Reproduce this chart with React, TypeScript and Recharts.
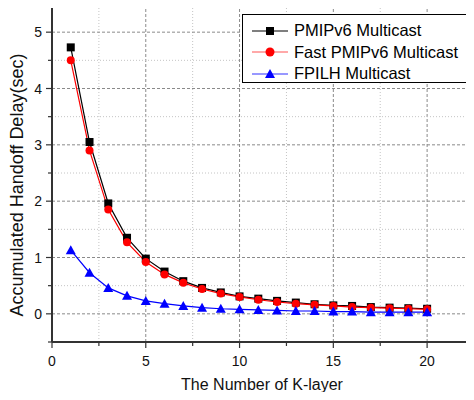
import React from 'react';
import { LineChart, Line, XAxis, YAxis, ReferenceLine, Legend } from 'recharts';

const layers = [1, 2, 3, 4, 5, 6, 7, 8, 9, 10, 11, 12, 13, 14, 15, 16, 17, 18, 19, 20];
const pmipv6 = [4.73, 3.05, 1.96, 1.35, 0.98, 0.75, 0.58, 0.46, 0.38, 0.31, 0.27, 0.23, 0.2, 0.17, 0.15, 0.14, 0.12, 0.11, 0.1, 0.09];
const fastPmipv6 = [4.5, 2.9, 1.85, 1.27, 0.92, 0.7, 0.55, 0.44, 0.36, 0.3, 0.25, 0.21, 0.18, 0.16, 0.14, 0.12, 0.11, 0.1, 0.09, 0.08];
const fpilh = [1.13, 0.73, 0.46, 0.32, 0.23, 0.18, 0.14, 0.11, 0.09, 0.08, 0.07, 0.06, 0.05, 0.05, 0.04, 0.04, 0.03, 0.03, 0.03, 0.03];

const xTicks = [0, 2.5, 5, 7.5, 10, 12.5, 15, 17.5, 20, 22.5];
const yTicks = [-0.5, 0, 0.5, 1, 1.5, 2, 2.5, 3, 3.5, 4, 4.5, 5, 5.5];
const xGrid = [2.5, 5, 7.5, 10, 12.5, 15, 17.5, 20];
const yGrid = [0, 0.5, 1, 1.5, 2, 2.5, 3, 3.5, 4, 4.5, 5];

const seriesNames = ['PMIPv6 Multicast', 'Fast PMIPv6 Multicast', 'FPILH Multicast'];

const data = layers.map((k, i) => ({ k, a: pmipv6[i], b: fastPmipv6[i], c: fpilh[i] }));

const FONT = 'Liberation Sans, Arial, sans-serif';

const isMajorX = (v: number) => v % 5 === 0;
const isMajorY = (v: number) => Number.isInteger(v);

const XTick = (props: any) => {
  const { x, y, payload } = props;
  const v = payload.value;
  const major = isMajorX(v);
  return (
    <g>
      <line x1={x} x2={x} y1={y} y2={y + (major ? 6 : 4)} stroke="#333" strokeWidth={1.2} />
      {major && v <= 20 && (
        <text x={x} y={y + 24} textAnchor="middle" fontSize={14} fontFamily={FONT} fill="#111">
          {v}
        </text>
      )}
    </g>
  );
};

const YTick = (props: any) => {
  const { x, y, payload } = props;
  const v = payload.value;
  const major = isMajorY(v);
  return (
    <g>
      <line x1={x} x2={x - (major ? 6 : 4)} y1={y} y2={y} stroke="#333" strokeWidth={1.2} />
      {major && v >= 0 && v <= 5 && (
        <text x={x - 10} y={y + 5} textAnchor="end" fontSize={14} fontFamily={FONT} fill="#111">
          {v}
        </text>
      )}
    </g>
  );
};

const Square = (props: any) => {
  const { cx, cy, index } = props;
  return <rect key={`s${index}`} x={cx - 4} y={cy - 4} width={8} height={8} fill="#000" />;
};
const Circle = (props: any) => {
  const { cx, cy, index } = props;
  return <circle key={`c${index}`} cx={cx} cy={cy} r={4} fill="#ff0000" />;
};
const Tri = (props: any) => {
  const { cx, cy, index } = props;
  return (
    <polygon key={`t${index}`} points={`${cx},${cy - 5} ${cx - 5},${cy + 4} ${cx + 5},${cy + 4}`} fill="#0000ff" />
  );
};

const markerSvg = (i: number) => {
  if (i === 0) return <rect x={14} y={5} width={8} height={8} fill="#000" />;
  if (i === 1) return <circle cx={18} cy={9} r={4.5} fill="#ff0000" />;
  return <polygon points="18,4 13,13 23,13" fill="#0000ff" />;
};
const lineColors = ['#000', '#ff5555', '#3333ff'];

const LegendBox = () => (
  <div
    style={{
      width: 225,
      height: 69,
      border: '1px solid #000',
      background: '#fff',
      boxSizing: 'border-box',
      paddingTop: 5,
      paddingLeft: 9,
      fontFamily: FONT,
    }}
  >
    {seriesNames.map((n, i) => (
      <div key={n} style={{ display: 'flex', alignItems: 'center', height: 21.5 }}>
        <svg width={38} height={18}>
          <line x1={0} x2={36} y1={9} y2={9} stroke={lineColors[i]} strokeWidth={1.2} />
          {markerSvg(i)}
        </svg>
        <span style={{ fontSize: 16.5, color: '#000', marginLeft: 4, whiteSpace: 'nowrap' }}>{n}</span>
      </div>
    ))}
  </div>
);

export default function App() {
  return (
    <div style={{ margin: -8, width: 474, height: 400, position: 'relative', background: '#fff' }}>
      <LineChart width={474} height={400} data={data} margin={{ top: 4, right: 0, bottom: 57, left: 51 }}>
        {xGrid.map((v) => (
          <ReferenceLine
            key={`xg${v}`}
            x={v}
            stroke={isMajorX(v) ? '#8a8a8a' : '#c4c4c4'}
            strokeDasharray={isMajorX(v) ? '3 2' : '1 2'}
            strokeWidth={1}
          />
        ))}
        {yGrid.map((v) => (
          <ReferenceLine
            key={`yg${v}`}
            y={v}
            stroke={isMajorY(v) ? '#8a8a8a' : '#c4c4c4'}
            strokeDasharray={isMajorY(v) ? '3 2' : '1 2'}
            strokeWidth={1}
          />
        ))}
        <XAxis
          dataKey="k"
          type="number"
          domain={[0, 22.5]}
          ticks={xTicks}
          interval={0}
          height={1}
          tickSize={0}
          tickMargin={0}
          tickLine={false}
          tick={<XTick />}
          axisLine={{ stroke: '#333', strokeWidth: 2 }}
          allowDataOverflow
        />
        <YAxis
          type="number"
          domain={[-0.5, 5.5]}
          ticks={yTicks}
          interval={0}
          width={1}
          tickSize={0}
          tickMargin={0}
          tickLine={false}
          tick={<YTick />}
          axisLine={{ stroke: '#333', strokeWidth: 2 }}
          allowDataOverflow
        />
        <Line dataKey="a" name={seriesNames[0]} stroke="#000" strokeWidth={1.2} dot={<Square />} isAnimationActive={false} />
        <Line dataKey="b" name={seriesNames[1]} stroke="#ff0000" strokeWidth={1.2} dot={<Circle />} isAnimationActive={false} />
        <Line dataKey="c" name={seriesNames[2]} stroke="#0000ff" strokeWidth={1.2} dot={<Tri />} isAnimationActive={false} />
        <Legend
          layout="vertical"
          align="center"
          verticalAlign="middle"
          content={<LegendBox />}
          wrapperStyle={{ top: 14, left: 242, width: 225 }}
        />
      </LineChart>
      <div
        style={{
          position: 'absolute',
          left: 0,
          top: 376,
          width: 524,
          textAlign: 'center',
          fontSize: 16,
          fontFamily: FONT,
          color: '#111',
        }}
      >
        The Number of K-layer
      </div>
      <div
        style={{
          position: 'absolute',
          left: 17,
          top: 185,
          transform: 'translate(-50%, -50%) rotate(-90deg)',
          whiteSpace: 'nowrap',
          fontSize: 18,
          fontFamily: FONT,
          color: '#111',
        }}
      >
        Accumulated Handoff Delay(sec)
      </div>
    </div>
  );
}
